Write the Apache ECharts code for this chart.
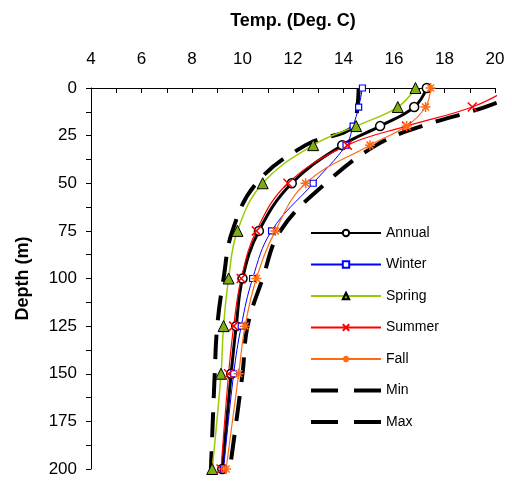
<!DOCTYPE html>
<html>
<head>
<meta charset="utf-8">
<script src="https://cdn.jsdelivr.net/npm/echarts@6/dist/echarts.min.js"></script>
<style>
html, body { margin: 0; padding: 0; background: #fff; }
#chart { width: 512px; height: 481px; }
</style>
</head>
<body>
<div id="chart"></div>
<script>
var depths = [0, 10, 20, 30, 50, 75, 100, 125, 150, 200];
var annual = [17.3, 16.8, 15.45, 13.95, 11.95, 10.65, 10.0, 9.75, 9.55, 9.2];
var winter = [14.75, 14.6, 14.38, 14.1, 12.8, 11.15, 10.4, 9.95, 9.65, 9.25];
var spring = [16.85, 16.15, 14.5, 12.8, 10.8, 9.8, 9.45, 9.25, 9.15, 8.8];
var summer = [20.6, 19.1, 16.5, 14.15, 11.8, 10.55, 9.95, 9.65, 9.45, 9.15];
var fall = [17.45, 17.25, 16.5, 15.05, 12.5, 11.3, 10.55, 10.1, 9.85, 9.35];
var minT = [14.6, 14.55, 14.4, 12.5, 10.55, 9.6, 9.25, 9.0, 8.9, 8.75];
var maxT = [21.5, 19.6, 17.1, 15.3, 13.3, 11.5, 10.8, 10.2, 10.0, 9.5];
var tempMax = 20;

var font = '"Liberation Sans", Arial, sans-serif';
var crossPath = 'path://M0,0L10,10M10,0L0,10';
var starPath = 'path://M5,0L5,10M0,5L10,5M1.5,1.5L8.5,8.5M8.5,1.5L1.5,8.5';
var dashIcon = 'path://M0,0h27v4h-27zM43,0h27v4h-27z';

function pairs(temps) {
    return temps.map(function (t, i) {
        // points off the right edge keep their line but lose the marker
        if (t > tempMax) return { value: [t, depths[i]], symbol: 'none' };
        return [t, depths[i]];
    });
}

function profile(name, temps, color, width, symbol, size, item, dash) {
    return {
        name: name,
        type: 'line',
        data: pairs(temps),
        smooth: 0.4,
        clip: false,
        symbol: symbol,
        symbolSize: size,
        showAllSymbol: true,
        lineStyle: { color: color, width: width, type: dash || 'solid' },
        itemStyle: item,
        z: dash ? 1 : 3
    };
}

var chart = echarts.init(document.getElementById('chart'));
chart.setOption({
    animation: false,
    textStyle: { fontFamily: font },
    grid: { left: 91, right: 17, top: 88, bottom: 12 },
    xAxis: {
        type: 'value',
        position: 'top',
        min: 4,
        max: tempMax,
        interval: 2,
        name: 'Temp. (Deg. C)',
        nameLocation: 'middle',
        nameGap: 58,
        nameTextStyle: { fontSize: 18, fontWeight: 'bold', color: '#000', fontFamily: font },
        axisLine: { lineStyle: { color: '#000', width: 1 } },
        axisTick: { inside: true, length: 5, lineStyle: { color: '#000' } },
        minorTick: { show: true, splitNumber: 2, length: 5, lineStyle: { color: '#000' } },
        axisLabel: { fontSize: 17, color: '#000', margin: 20, fontFamily: font },
        splitLine: { show: false }
    },
    yAxis: {
        type: 'value',
        inverse: true,
        min: 0,
        max: 200,
        interval: 25,
        name: 'Depth (m)',
        nameLocation: 'middle',
        nameRotate: 90,
        nameGap: 59,
        nameTextStyle: { fontSize: 18, fontWeight: 'bold', color: '#000', fontFamily: font },
        axisLine: { lineStyle: { color: '#000', width: 1 } },
        axisTick: { length: 5, lineStyle: { color: '#000' } },
        minorTick: { show: true, splitNumber: 2, length: 5, lineStyle: { color: '#000' } },
        axisLabel: { fontSize: 17, color: '#000', margin: 14, fontFamily: font },
        splitLine: { show: false }
    },
    legend: {
        orient: 'vertical',
        left: 305,
        top: 221,
        itemWidth: 70,
        itemHeight: 8,
        itemGap: 17.5,
        textStyle: { fontSize: 14, color: '#000', fontFamily: font },
        data: [
            { name: 'Annual' },
            { name: 'Winter' },
            { name: 'Spring' },
            { name: 'Summer' },
            { name: 'Fall' },
            { name: 'Min', icon: dashIcon },
            { name: 'Max', icon: dashIcon }
        ]
    },
    series: [
        profile('Min', minT, '#000', 4, 'none', 0, { color: '#000' }, [25, 14]),
        profile('Max', maxT, '#000', 4, 'none', 0, { color: '#000' }, [25, 14]),
        profile('Annual', annual, '#000', 3, 'circle', 9, { color: '#fff', borderColor: '#000', borderWidth: 1.5 }),
        profile('Winter', winter, '#0000ff', 1, 'rect', 6, { color: '#fff', borderColor: '#0000ff', borderWidth: 1.2 }),
        profile('Spring', spring, '#99cc00', 1.5, 'triangle', 11, { color: '#7fae12', borderColor: '#000', borderWidth: 1 }),
        profile('Summer', summer, '#ff0000', 1.2, crossPath, 9, { color: '#ff0000', borderColor: '#ff0000', borderWidth: 1.5 }),
        profile('Fall', fall, '#ff6a13', 1.2, starPath, 10, { color: '#ff6a13', borderColor: '#ff6a13', borderWidth: 1.5 })
    ]
});
window.addEventListener('resize', function () {
    chart.resize();
});
</script>
</body>
</html>
